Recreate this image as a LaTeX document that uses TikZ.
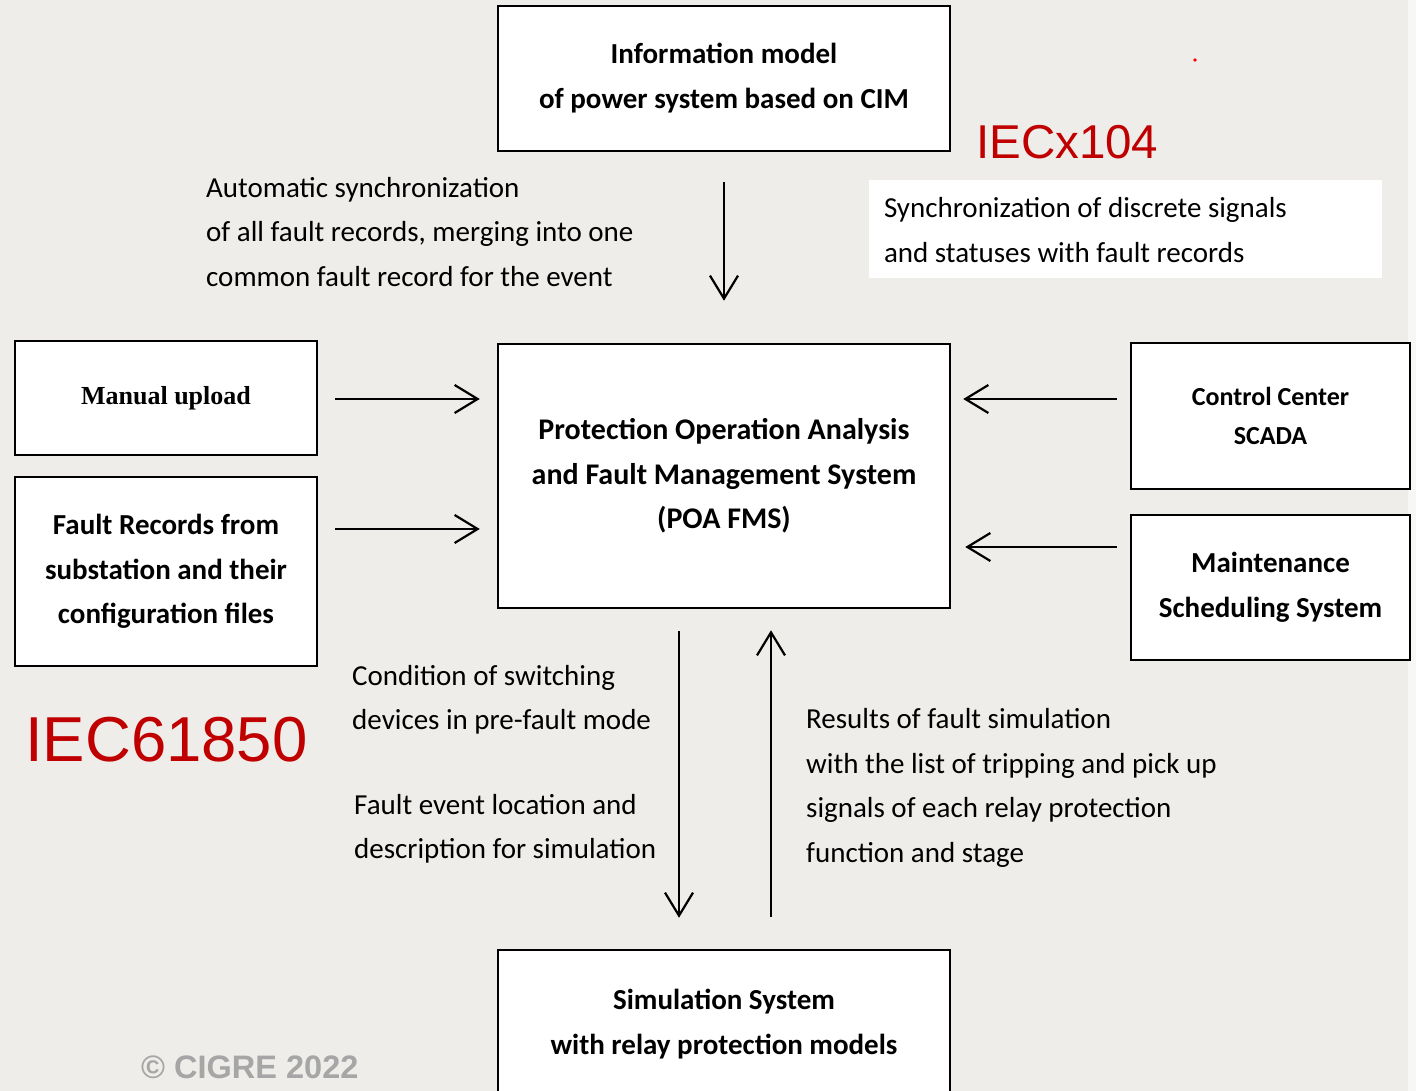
\documentclass[tikz,border=0pt]{standalone}
\usepackage{fontspec}
\setmainfont{Carlito}
\newfontfamily\arialf{Liberation Sans}
\newfontfamily\timesf{Liberation Serif}
\usetikzlibrary{arrows.meta,calc}
\definecolor{bg}{RGB}{238,237,233}
\definecolor{iecred}{RGB}{192,0,0}
\definecolor{cigre}{RGB}{166,166,166}
\begin{document}
\begin{tikzpicture}[x=1pt,y=-1pt,
  box/.style={draw=black,line width=2.5pt,fill=white,inner sep=0pt,align=center},
  flow/.style={line width=2.2pt,-{Straight Barb[length=23pt,width=28pt]}},
  boldA/.style={font=\fontsize{29}{45}\selectfont\bfseries},
  reg/.style={font=\fontsize{29}{44.5}\selectfont,align=left,inner sep=0pt,anchor=west},
  redlbl/.style={text=iecred,inner sep=0pt,anchor=west},
]
\fill[bg] (0,0) rectangle (1416,1091);
\fill[white!55!bg] (1408,0) rectangle (1416,1091);
\useasboundingbox (0,0) rectangle (1416,1091);

% boxes
\node[box,boldA,minimum width=452,minimum height=145] (info) at (724,78.5)
  {Information model\\of power system based on CIM};
\node[box,font=\fontsize{30}{44.5}\selectfont\bfseries,minimum width=452,minimum height=264] (poa) at (724,476)
  {Protection Operation Analysis\\and Fault Management System\\(POA FMS)};
\node[box,font=\timesf\bfseries\fontsize{26}{30}\selectfont,minimum width=302,minimum height=114] (manual) at (166,398)
  {Manual upload};
\node[box,font=\fontsize{29}{44.5}\selectfont\bfseries,minimum width=302,minimum height=189] (fault) at (166,571.5)
  {Fault Records from\\substation and their\\configuration files};
\node[box,font=\fontsize{26}{39}\selectfont\bfseries,minimum width=279,minimum height=146] (scada) at (1270.5,416)
  {Control Center\\SCADA};
\node[box,boldA,minimum width=279,minimum height=145] (maint) at (1270.5,587.5)
  {Maintenance\\Scheduling System};
\node[box,boldA,minimum width=452,minimum height=149] (sim) at (724,1024.5)
  {Simulation System\\with relay protection models};

% white label box
\node[fill=white,inner sep=0pt,minimum width=513,minimum height=98] (syncbox) at (1125.5,229) {};
\node[reg,font=\fontsize{29}{45}\selectfont] (synctext) at ([xshift=15pt,yshift=-1.5pt]syncbox.west)
  {Synchronization of discrete signals\\and statuses with fault records};

% free texts
\node[reg] (auto) at (206,232) {Automatic synchronization\\of all fault records, merging into one\\common fault record for the event};
\node[reg] (cond) at (352,700) {Condition of switching\\devices in pre-fault mode};
\node[reg] (fev) at (354,829) {Fault event location and\\description for simulation};
\node[reg] (res) at (806,788) {Results of fault simulation\\with the list of tripping and pick up\\signals of each relay protection\\function and stage};

\node[redlbl,font=\arialf\fontsize{47.5}{47.5}\selectfont] (iec104) at (976,142.5) {IECx104};
\node[redlbl,font=\arialf\fontsize{63.5}{63.5}\selectfont] (iec61850) at (25,739.5) {IEC61850};
\node[text=cigre,inner sep=0pt,anchor=west,font=\arialf\bfseries\fontsize{32.5}{32.5}\selectfont] (cigre) at (141,1067) {\textcopyright{} CIGRE 2022};
\fill[red] (1195,60) circle (1.8);

% connectors
\draw[flow] ([yshift=-30pt]info.south) -- ([yshift=42pt]poa.north);
\draw[flow] ([shift={(17pt,-1pt)}]manual.east) -- ([shift={(-17pt,-1pt)}]manual.east -| poa.west);
\draw[flow] ([shift={(17pt,42.5pt)}]fault.east) -- ([shift={(-17pt,42.5pt)}]fault.east -| poa.west);
\draw[flow] ([shift={(-13pt,17pt)}]scada.west) -- ([shift={(12pt,17pt)}]scada.west -| poa.east);
\draw[flow] ([shift={(-13pt,40.5pt)}]maint.west) -- ([shift={(14pt,40.5pt)}]maint.west -| poa.east);
\draw[flow] ([shift={(-45pt,-22pt)}]poa.south) -- ([shift={(-45pt,31pt)}]sim.north);
\draw[flow] ([shift={(47pt,32pt)}]sim.north) -- ([shift={(47pt,-21pt)}]poa.south);
\end{tikzpicture}
\end{document}
